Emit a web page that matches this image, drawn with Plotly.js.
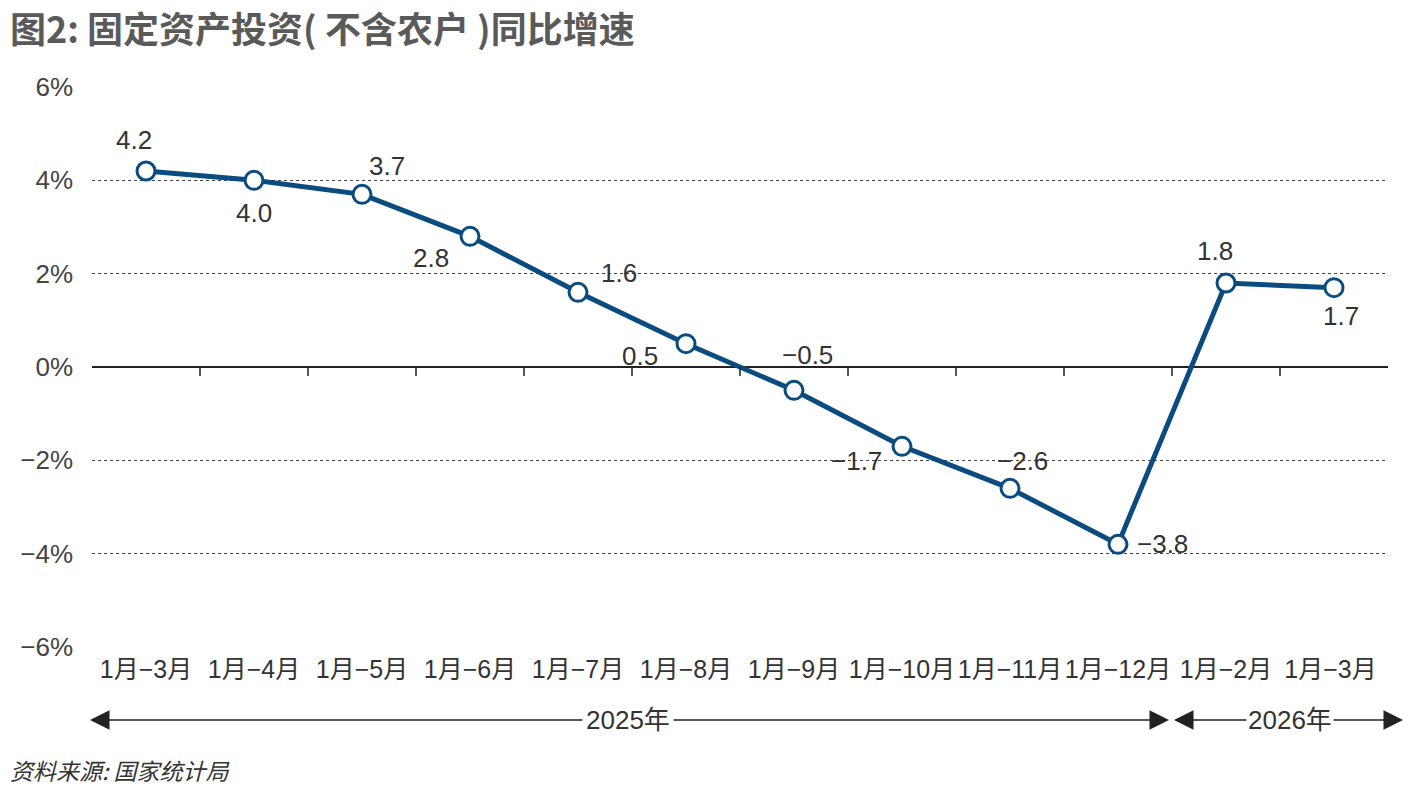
<!DOCTYPE html>
<html>
<head>
<meta charset="utf-8">
<script src="https://cdn.plot.ly/plotly-3.0.1.min.js"></script>
<style>html,body{margin:0;padding:0;background:#fff;}#chart{width:1417px;height:795px;}</style>
</head>
<body>
<div id="chart"></div>
<script>
const categories = ["1月−3月","1月−4月","1月−5月","1月−6月","1月−7月","1月−8月","1月−9月","1月−10月","1月−11月","1月−12月","1月−2月","1月−3月 "];
const values = [4.2, 4.0, 3.7, 2.8, 1.6, 0.5, -0.5, -1.7, -2.6, -3.8, 1.8, 1.7];
const valueLabels = ["4.2","4.0","3.7","2.8","1.6","0.5","−0.5","−1.7","−2.6","−3.8","1.8","1.7"];
const yTickVals = [-6, -4, -2, 0, 2, 4, 6];
const yTickText = ["−6%","−4%","−2%","0%","2%","4%","6%"];
const years = ["2025年", "2026年"];
const title = "图2: 固定资产投资( 不含农户 )同比增速";
const source = "资料来源: 国家统计局";

// label offsets (px) for readability, style only
const labelShift = [[-12,31],[0,-33],[25,28],[-39,-22],[41,19],[-46,-12],[13,35],[-46,-15],[12,27],[44,0],[-11,32],[7,-28]];

const blue = "#0b4c80";
const font = "Liberation Sans, Arial, 'Noto Sans CJK SC', sans-serif";

const trace = {
  type: "scatter",
  mode: "lines+markers",
  x: categories,
  y: values,
  line: {color: blue, width: 5},
  marker: {size: 18, color: "#fff", line: {color: blue, width: 3}},
  hoverinfo: "skip",
  cliponaxis: false
};

const annotations = values.map((v, i) => ({
  x: categories[i], y: v, xref: "x", yref: "y",
  text: valueLabels[i], showarrow: false,
  xshift: labelShift[i][0], yshift: labelShift[i][1],
  font: {family: font, size: 26, color: "#333"}
}));

// year arrows
const ya = -0.1304;
const arrowStyle = {xref: "paper", yref: "paper", text: "", showarrow: true, arrowhead: 2, arrowsize: 2.6, arrowwidth: 1.5, arrowcolor: "#222", ay: 0, standoff: 0, startstandoff: 0};
const px = p => (p - 92) / 1296;
annotations.push(Object.assign({}, arrowStyle, {x: px(90), y: ya, ax: 530}));
annotations.push(Object.assign({}, arrowStyle, {x: px(1169), y: ya, ax: -530}));
annotations.push(Object.assign({}, arrowStyle, {x: px(1174), y: ya, ax: 115}));
annotations.push(Object.assign({}, arrowStyle, {x: px(1403), y: ya, ax: -112}));
annotations.push({xref: "paper", yref: "paper", x: px(628), y: ya, text: years[0], showarrow: false, bgcolor: "#fff", borderpad: 3, xanchor: "center", yanchor: "middle", font: {family: font, size: 26, color: "#333"}});
annotations.push({xref: "paper", yref: "paper", x: px(1290), y: ya, text: years[1], showarrow: false, bgcolor: "#fff", borderpad: 1, xanchor: "center", yanchor: "middle", font: {family: font, size: 26, color: "#333"}});
annotations.push({xref: "paper", yref: "paper", x: px(8), y: (647 - 770) / 560, text: "<i>" + source + "</i>", showarrow: false, xanchor: "left", yanchor: "middle", font: {family: "'Noto Sans CJK SC', sans-serif", size: 23, color: "#333"}});

// category boundary ticks on zero line
const shapes = categories.slice(0, -1).map((c, i) => ({
  type: "line", xref: "x", yref: "y", ysizemode: "pixel", yanchor: 0,
  x0: i + 0.5, x1: i + 0.5, y0: 0, y1: -9,
  line: {color: "#222", width: 1.5}
}));

const layout = {
  width: 1417, height: 795,
  margin: {l: 92, r: 29, t: 87, b: 148},
  paper_bgcolor: "#fff", plot_bgcolor: "#fff",
  showlegend: false,
  title: {text: "<b>" + title + "</b>", xref: "container", yref: "container", x: 10/1417, xanchor: "left", y: 1 - 30/795, yanchor: "middle", font: {family: "'Noto Sans CJK SC', sans-serif", size: 36, color: "#5a5a5a"}},
  xaxis: {
    type: "category", range: [-0.5, 11.5], showgrid: false, zeroline: false, showline: false,
    ticks: "", tickangle: 0, tickfont: {family: font, size: 25, color: "#333"}, ticklabelstandoff: 5, fixedrange: true
  },
  yaxis: {
    range: [-6, 6], tickvals: yTickVals, ticktext: yTickText,
    showgrid: true, gridcolor: "#444", gridwidth: 1, griddash: "dot",
    zeroline: true, zerolinecolor: "#222", zerolinewidth: 1.5,
    showline: false, ticks: "", ticklabelstandoff: 18,
    tickfont: {family: font, size: 26, color: "#444"}, fixedrange: true
  },
  annotations: annotations,
  shapes: shapes
};

Plotly.newPlot("chart", [trace], layout, {staticPlot: true});
</script>
</body>
</html>
